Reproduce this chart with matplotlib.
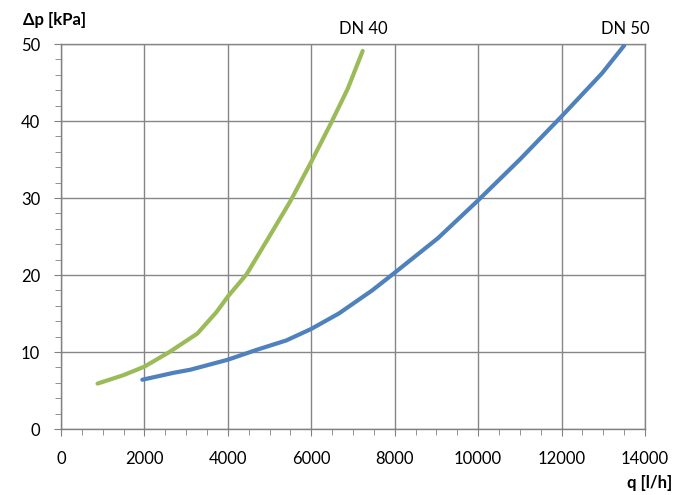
import matplotlib
matplotlib.use('Agg')
import matplotlib.pyplot as plt
from matplotlib.ticker import MultipleLocator

plt.rcParams['font.family'] = ['Lato', 'DejaVu Sans']

# DN 40 (green)
q40 = [877, 1500, 2000, 2600, 3270, 3730, 4000, 4450, 4950, 5500, 6000, 6480, 6875, 7233]
dp40 = [5.9, 7.0, 8.1, 10.0, 12.4, 15.2, 17.2, 20.1, 24.6, 29.6, 34.7, 39.8, 44.2, 49.1]

# DN 50 (blue)
q50 = [1950, 2700, 3100, 4000, 4700, 5400, 6000, 6660, 7460, 8000, 9040, 10000, 11000, 12000, 12970, 13500]
dp50 = [6.4, 7.3, 7.7, 9.0, 10.3, 11.5, 13.0, 15.0, 18.0, 20.3, 24.8, 29.7, 35.0, 40.6, 46.2, 49.8]

fig = plt.figure(figsize=(6.85, 4.95), dpi=100)
ax = fig.add_axes([0.0890, 0.1333, 0.8526, 0.7778])

grid_col = '#868686'
ax.plot(q40, dp40, color='#9BBB59', lw=3.0, solid_capstyle='round', solid_joinstyle='round', zorder=3)
ax.plot(q50, dp50, color='#4F81BD', lw=3.0, solid_capstyle='round', solid_joinstyle='round', zorder=3)

ax.set_xlim(0, 14000)
ax.set_ylim(0, 50)
ax.xaxis.set_major_locator(MultipleLocator(2000))
ax.xaxis.set_minor_locator(MultipleLocator(500))
ax.yaxis.set_major_locator(MultipleLocator(10))
ax.yaxis.set_minor_locator(MultipleLocator(2))
ax.grid(True, which='major', color=grid_col, lw=1.0)
ax.set_axisbelow(True)

for s in ['top', 'right']:
    ax.spines[s].set_color(grid_col)
    ax.spines[s].set_linewidth(1.0)
for s in ['left', 'bottom']:
    ax.spines[s].set_color('#808080')
    ax.spines[s].set_linewidth(1.0)

ax.tick_params(which='major', length=5, color='#808080', labelsize=12)
ax.tick_params(which='minor', length=4, color='#808080')
ax.tick_params(axis='x', which='major', pad=11)
ax.tick_params(axis='y', which='major', pad=10)

ax.text(7255, 52.0, 'DN 40', ha='center', va='center', fontsize=12, clip_on=False)
ax.text(13520, 52.0, 'DN 50', ha='center', va='center', fontsize=12, clip_on=False)

fig.text(23 / 685, 1 - 20 / 495, 'Δp [kPa]', ha='left', va='center', fontsize=12, fontweight='bold')
fig.text(672 / 685, 1 - 483 / 495, 'q [l/h]', ha='right', va='center', fontsize=12, fontweight='bold')

fig.savefig('out.png', dpi=100)
